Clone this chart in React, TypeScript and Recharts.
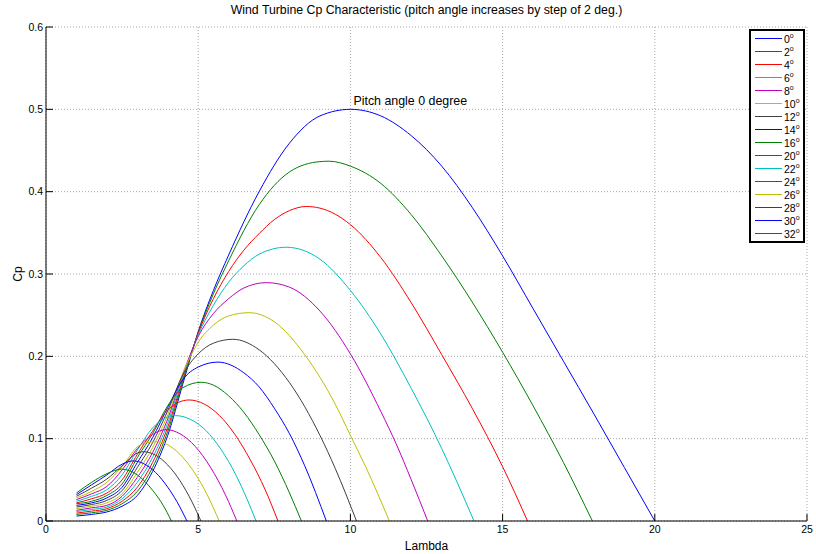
import { LineChart, Line, XAxis, YAxis, CartesianGrid, ReferenceDot } from "recharts";

// Cp vs lambda for each pitch angle, [lambda, Cp]
const pitch0 = [[1, 0.006], [1.5, 0.008], [2, 0.011], [2.5, 0.018], [3, 0.031], [3.5, 0.06], [4, 0.104], [4.5, 0.167], [5, 0.23], [5.5, 0.28], [6, 0.323], [7, 0.4], [8, 0.459], [9, 0.492], [10, 0.5], [11, 0.492], [12, 0.468], [13, 0.431], [14, 0.381], [15, 0.322], [16, 0.258], [17, 0.194], [18, 0.13], [19, 0.065], [20, 0]];
const pitch2 = [[1, 0.008], [1.5, 0.01], [2, 0.013], [2.5, 0.021], [3, 0.036], [3.5, 0.065], [4, 0.109], [4.5, 0.17], [5, 0.229], [5.5, 0.276], [6, 0.316], [7, 0.384], [8, 0.424], [9, 0.4365], [9.3, 0.437], [10, 0.431], [11, 0.41], [12, 0.372], [13, 0.322], [14, 0.266], [15, 0.205], [16, 0.14], [17, 0.071], [17.95, 0]];
const pitch4 = [[1, 0.0096], [1.5, 0.012], [2, 0.015], [2.5, 0.024], [3, 0.041], [3.5, 0.071], [4, 0.114], [4.5, 0.173], [5, 0.228], [5.5, 0.27], [6, 0.303], [6.5, 0.329], [7, 0.349], [7.5, 0.366], [8, 0.377], [8.55, 0.382], [9, 0.38], [10, 0.36], [11, 0.32], [12, 0.265], [13, 0.202], [14, 0.137], [15, 0.066], [15.82, 0]];
const pitch6 = [[1, 0.0114], [1.5, 0.014], [2, 0.017], [2.5, 0.027], [3, 0.047], [3.5, 0.077], [4, 0.119], [4.5, 0.176], [5, 0.226], [5.5, 0.262], [6, 0.29], [6.5, 0.31], [7, 0.324], [7.89, 0.3325], [9, 0.318], [10, 0.28], [11, 0.227], [12, 0.161], [13, 0.088], [14.06, 0]];
const pitch8 = [[1, 0.013], [1.5, 0.016], [2, 0.019], [2.5, 0.03], [3, 0.053], [3.5, 0.083], [4, 0.124], [4.5, 0.179], [5, 0.224], [5.5, 0.252], [6, 0.27], [6.5, 0.283], [7.24, 0.2895], [8, 0.284], [9, 0.255], [10, 0.203], [11, 0.133], [11.5, 0.094], [12, 0.05], [12.54, 0]];
const pitch10 = [[1, 0.015], [1.5, 0.018], [2, 0.022], [2.5, 0.033], [3, 0.059], [3.5, 0.089], [4, 0.129], [4.5, 0.18], [5, 0.217], [5.5, 0.238], [6, 0.249], [6.67, 0.253], [7.5, 0.242], [8.5, 0.202], [9.5, 0.142], [10, 0.104], [10.5, 0.066], [11.28, 0]];
const pitch12 = [[1, 0.017], [1.5, 0.02], [2, 0.025], [2.5, 0.037], [3, 0.065], [3.5, 0.095], [4, 0.134], [4.5, 0.178], [5, 0.203], [5.5, 0.216], [6.14, 0.2207], [7, 0.208], [8, 0.168], [9, 0.104], [9.5, 0.064], [10.2, 0]];
const pitch14 = [[1, 0.019], [1.5, 0.022], [2, 0.028], [2.5, 0.041], [3, 0.071], [3.5, 0.101], [4, 0.138], [4.5, 0.172], [5, 0.187], [5.65, 0.193], [6.5, 0.18], [7, 0.163], [7.5, 0.137], [8, 0.106], [8.5, 0.067], [9.21, 0]];
const pitch16 = [[1, 0.021], [1.5, 0.024], [2, 0.031], [2.5, 0.045], [3, 0.077], [3.5, 0.106], [4, 0.14], [4.5, 0.162], [5.1, 0.1685], [5.5, 0.165], [6, 0.152], [6.5, 0.132], [7, 0.105], [7.5, 0.073], [8, 0.034], [8.39, 0]];
const pitch20 = [[1, 0.022], [1.5, 0.027], [2, 0.034], [2.5, 0.05], [3, 0.081], [3.5, 0.109], [4, 0.135], [4.7, 0.147], [5.2, 0.142], [5.7, 0.128], [6.2, 0.1055], [6.7, 0.075], [7.2, 0.038], [7.62, 0]];
const pitch22 = [[1, 0.024], [1.5, 0.03], [2, 0.038], [2.5, 0.056], [3, 0.086], [3.5, 0.113], [4.25, 0.128], [4.75, 0.1234], [5.25, 0.11], [5.75, 0.087], [6.25, 0.055], [6.6, 0.027], [6.9, 0]];
const pitch24 = [[1, 0.026], [1.5, 0.033], [2, 0.042], [2.5, 0.062], [3, 0.088], [3.5, 0.105], [3.95, 0.111], [4.4, 0.106], [4.9, 0.0907], [5.4, 0.0655], [5.9, 0.0313], [6.27, 0]];
const pitch26 = [[1, 0.028], [1.5, 0.036], [2, 0.047], [2.5, 0.066], [3, 0.09], [3.3, 0.095], [3.62, 0.0963], [4, 0.0925], [4.4, 0.081], [4.8, 0.063], [5.2, 0.0387], [5.5, 0.016], [5.69, 0]];
const pitch28 = [[1, 0.03], [1.5, 0.04], [2, 0.051], [2.5, 0.067], [3, 0.0825], [3.2, 0.0842], [3.6, 0.08], [4, 0.068], [4.4, 0.049], [4.8, 0.023], [5.09, 0]];
const pitch30 = [[1, 0.032], [1.5, 0.044], [2, 0.056], [2.5, 0.069], [2.86, 0.073], [3.2, 0.0698], [3.6, 0.059], [4, 0.041], [4.3, 0.0236], [4.63, 0]];
const pitch32 = [[1, 0.034], [1.5, 0.047], [2, 0.0575], [2.48, 0.063], [3, 0.056], [3.5, 0.0374], [3.85, 0.019], [4.12, 0]];

const pitchCurves = [pitch0, pitch2, pitch4, pitch6, pitch8, pitch10, pitch12, pitch14, pitch16, pitch20, pitch22, pitch24, pitch26, pitch28, pitch30, pitch32];
const pitchLabels = ["0", "2", "4", "6", "8", "10", "12", "14", "16", "20", "22", "24", "26", "28", "30", "32"];

const xTicks = [0, 5, 10, 15, 20, 25];
const yTicks = [0, 0.1, 0.2, 0.3, 0.4, 0.5, 0.6];

const annotation = { lambda: 10.1, cp: 0.511, text: "Pitch angle 0 degree" };

// matlab's old colour order b g r c m y k
const lineColors = ["#0000ff", "#008000", "#ff0000", "#00bfbf", "#bf00bf", "#bfbf00", "#404040"];

const FONT = '"Liberation Sans", Arial, Helvetica, sans-serif';

function CpLabel(props: any) {
  const { viewBox } = props;
  const cx = viewBox.x + 18;
  const cy = viewBox.y + viewBox.height / 2;
  return (
    <text x={cx} y={cy} transform={`rotate(-90, ${cx}, ${cy})`} textAnchor="middle" dominantBaseline="central" fontSize={12} fill="#000">
      Cp
    </text>
  );
}

function PitchLegend() {
  return (
    <svg style={{ position: "absolute", left: 749, top: 29 }} width={56} height={214} fontFamily={FONT}>
      <rect x={1} y={1} width={54} height={212} fill="#fff" stroke="#000" strokeWidth={2} />
      {pitchLabels.map((p, i) => {
        const y = 9.5 + 13 * i;
        return (
          <g key={p}>
            <line x1={6} x2={33} y1={y} y2={y} stroke={lineColors[i % lineColors.length]} />
            <text x={35} y={y} dominantBaseline="central" fontSize={10.5} fill="#000">
              {p}
              <tspan dy={-4} fontSize={7}>o</tspan>
            </text>
          </g>
        );
      })}
    </svg>
  );
}

export default function App() {
  return (
    <div style={{ position: "absolute", left: 0, top: 0, width: 816, height: 554, background: "#fff", fontFamily: FONT }}>
      <div style={{ position: "absolute", left: 46, width: 761, top: 3, textAlign: "center", fontSize: 12.3, color: "#000" }}>
        Wind Turbine Cp Characteristic (pitch angle increases by step of 2 deg.)
      </div>
      <LineChart width={816} height={554} margin={{ top: 27, right: 9, bottom: 0, left: 0 }}>
        <CartesianGrid stroke="#a8a8a8" strokeDasharray="1 2" />
        <XAxis
          type="number"
          dataKey="x"
          domain={[0, 25]}
          ticks={xTicks}
          interval={0}
          allowDuplicatedCategory={false}
          height={33}
          tickSize={-7}
          tickMargin={12}
          stroke="#000"
          tick={{ fill: "#000", fontSize: 10.5 }}
          label={{ value: "Lambda", position: "insideBottom", offset: 4, fill: "#000", fontSize: 12 }}
        />
        <YAxis
          type="number"
          domain={[0, 0.6]}
          ticks={yTicks}
          interval={0}
          width={46}
          tickSize={-7}
          tickMargin={10}
          stroke="#000"
          tick={{ fill: "#000", fontSize: 10.5 }}
          label={<CpLabel />}
        />
        {pitchCurves.map((curve, i) => (
          <Line
            key={pitchLabels[i]}
            data={curve.map(([x, y]) => ({ x, y }))}
            dataKey="y"
            name={pitchLabels[i]}
            type="monotone"
            stroke={lineColors[i % lineColors.length]}
            strokeWidth={1}
            dot={false}
            activeDot={false}
            isAnimationActive={false}
          />
        ))}
        <ReferenceDot
          x={annotation.lambda}
          y={annotation.cp}
          r={0}
          fill="none"
          stroke="none"
          label={{ value: annotation.text, position: "right", offset: 0, fill: "#000", fontSize: 12.4 }}
        />
      </LineChart>
      <PitchLegend />
    </div>
  );
}
